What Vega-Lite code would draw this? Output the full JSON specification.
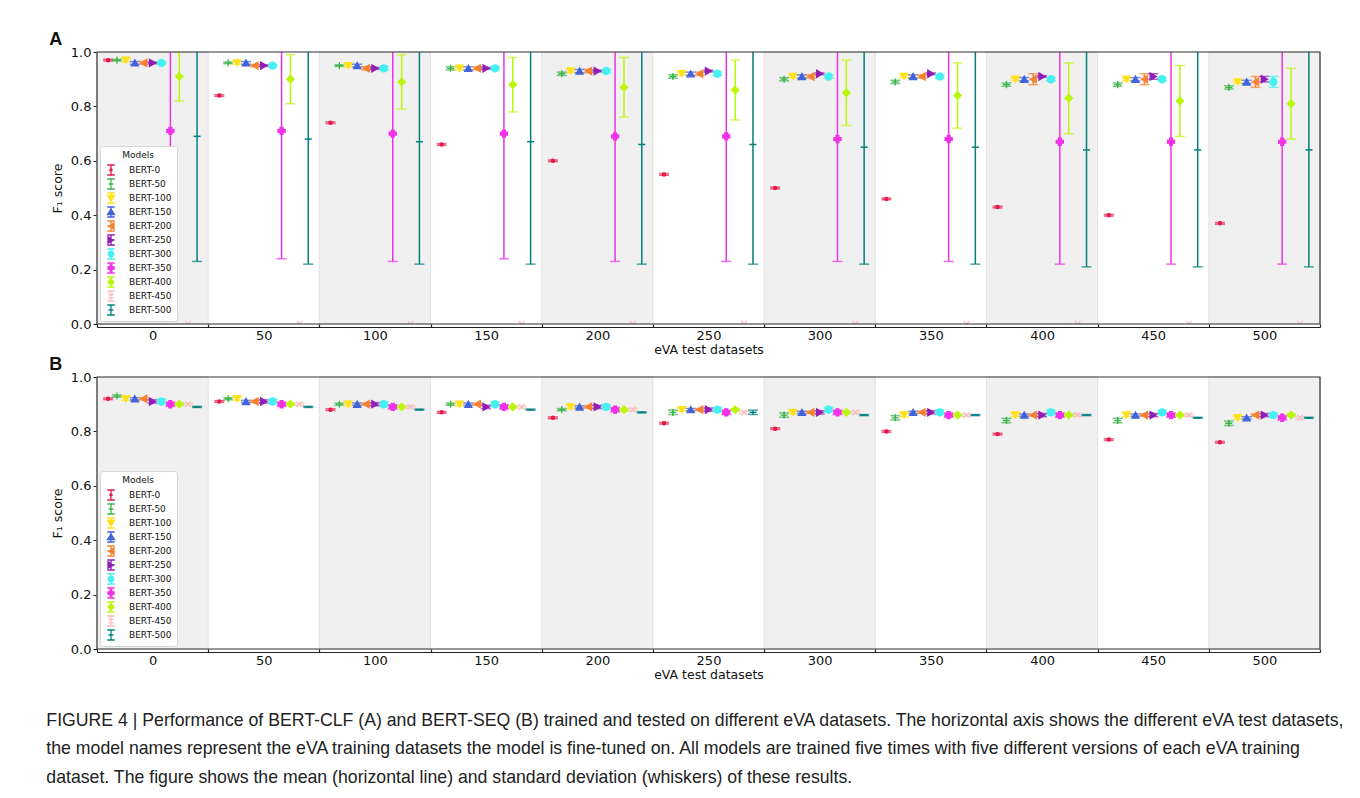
{
"$schema": "https://vega.github.io/schema/vega-lite/v6.json",
"background": "white",
"padding": {"left": 46, "top": 31, "right": 0, "bottom": 0},
"spacing": 0,
"config": {
 "font": "DejaVu Sans",
 "view": {"stroke": null},
 "axis": {"labelFont": "DejaVu Sans", "titleFont": "DejaVu Sans", "labelColor": "#111", "titleColor": "#111", "titleFontWeight": "normal", "grid": false},
 "legend": {"orient": "bottom-left", "offset": 3, "zindex": 1, "strokeColor": "#d4d4d4", "fillColor": "white", "cornerRadius": 3, "padding": 5, "titleFont": "DejaVu Sans", "titleFontSize": 9, "titleFontWeight": "normal", "titleColor": "#111", "titleAnchor": "middle", "titlePadding": 4, "labelFont": "DejaVu Sans", "labelFontSize": 9, "labelColor": "#111", "symbolSize": 100, "symbolStrokeWidth": 1.3, "symbolOpacity": 1, "rowPadding": 2, "clipHeight": 12, "labelOffset": 12}
},
"title": {"text": ["FIGURE 4 | Performance of BERT-CLF (A) and BERT-SEQ (B) trained and tested on different eVA datasets. The horizontal axis shows the different eVA test datasets,", "the model names represent the eVA training datasets the model is fine-tuned on. All models are trained five times with five different versions of each eVA training", "dataset. The figure shows the mean (horizontal line) and standard deviation (whiskers) of these results."], "orient": "bottom", "anchor": "start", "frame": "bounds", "dx": -3, "offset": 31, "font": "Liberation Sans", "fontSize": 17.7, "fontWeight": "normal", "lineHeight": 28.7, "color": "#222"},
"datasets": {
 "bands": [{"t":0},{"t":100},{"t":200},{"t":300},{"t":400},{"t":500}],
 "frame": [{}],
 "A": [
{"t":0,"m":"BERT-0","v":0.97,"lo":0.967,"hi":0.973},{"t":0,"m":"BERT-50","v":0.97,"lo":0.967,"hi":0.973},{"t":0,"m":"BERT-100","v":0.97,"lo":0.964,"hi":0.976},{"t":0,"m":"BERT-150","v":0.96,"lo":0.955,"hi":0.965},{"t":0,"m":"BERT-200","v":0.96,"lo":0.955,"hi":0.965},{"t":0,"m":"BERT-250","v":0.96,"lo":0.957,"hi":0.963},{"t":0,"m":"BERT-300","v":0.96,"lo":0.956,"hi":0.964},{"t":0,"m":"BERT-350","v":0.71,"lo":0.24,"hi":1.18},{"t":0,"m":"BERT-400","v":0.91,"lo":0.82,"hi":1.0},{"t":0,"m":"BERT-450","v":0.0,"lo":0.0,"hi":0.0},{"t":0,"m":"BERT-500","v":0.69,"lo":0.23,"hi":1.15},
{"t":50,"m":"BERT-0","v":0.84,"lo":0.837,"hi":0.843},{"t":50,"m":"BERT-50","v":0.96,"lo":0.957,"hi":0.963},{"t":50,"m":"BERT-100","v":0.96,"lo":0.955,"hi":0.965},{"t":50,"m":"BERT-150","v":0.96,"lo":0.955,"hi":0.965},{"t":50,"m":"BERT-200","v":0.95,"lo":0.946,"hi":0.954},{"t":50,"m":"BERT-250","v":0.95,"lo":0.947,"hi":0.953},{"t":50,"m":"BERT-300","v":0.95,"lo":0.946,"hi":0.954},{"t":50,"m":"BERT-350","v":0.71,"lo":0.24,"hi":1.18},{"t":50,"m":"BERT-400","v":0.90,"lo":0.81,"hi":0.99},{"t":50,"m":"BERT-450","v":0.0,"lo":0.0,"hi":0.0},{"t":50,"m":"BERT-500","v":0.68,"lo":0.22,"hi":1.14},
{"t":100,"m":"BERT-0","v":0.74,"lo":0.737,"hi":0.743},{"t":100,"m":"BERT-50","v":0.95,"lo":0.947,"hi":0.953},{"t":100,"m":"BERT-100","v":0.95,"lo":0.945,"hi":0.955},{"t":100,"m":"BERT-150","v":0.95,"lo":0.945,"hi":0.955},{"t":100,"m":"BERT-200","v":0.94,"lo":0.934,"hi":0.946},{"t":100,"m":"BERT-250","v":0.94,"lo":0.937,"hi":0.943},{"t":100,"m":"BERT-300","v":0.94,"lo":0.934,"hi":0.946},{"t":100,"m":"BERT-350","v":0.70,"lo":0.23,"hi":1.17},{"t":100,"m":"BERT-400","v":0.89,"lo":0.79,"hi":0.99},{"t":100,"m":"BERT-450","v":0.0,"lo":0.0,"hi":0.0},{"t":100,"m":"BERT-500","v":0.67,"lo":0.22,"hi":1.12},
{"t":150,"m":"BERT-0","v":0.66,"lo":0.657,"hi":0.663},{"t":150,"m":"BERT-50","v":0.94,"lo":0.934,"hi":0.946},{"t":150,"m":"BERT-100","v":0.94,"lo":0.935,"hi":0.945},{"t":150,"m":"BERT-150","v":0.94,"lo":0.934,"hi":0.946},{"t":150,"m":"BERT-200","v":0.94,"lo":0.934,"hi":0.946},{"t":150,"m":"BERT-250","v":0.94,"lo":0.937,"hi":0.943},{"t":150,"m":"BERT-300","v":0.94,"lo":0.934,"hi":0.946},{"t":150,"m":"BERT-350","v":0.70,"lo":0.24,"hi":1.16},{"t":150,"m":"BERT-400","v":0.88,"lo":0.78,"hi":0.98},{"t":150,"m":"BERT-450","v":0.0,"lo":0.0,"hi":0.0},{"t":150,"m":"BERT-500","v":0.67,"lo":0.22,"hi":1.12},
{"t":200,"m":"BERT-0","v":0.60,"lo":0.597,"hi":0.603},{"t":200,"m":"BERT-50","v":0.92,"lo":0.914,"hi":0.926},{"t":200,"m":"BERT-100","v":0.93,"lo":0.925,"hi":0.935},{"t":200,"m":"BERT-150","v":0.93,"lo":0.924,"hi":0.936},{"t":200,"m":"BERT-200","v":0.93,"lo":0.924,"hi":0.936},{"t":200,"m":"BERT-250","v":0.93,"lo":0.927,"hi":0.933},{"t":200,"m":"BERT-300","v":0.93,"lo":0.924,"hi":0.936},{"t":200,"m":"BERT-350","v":0.69,"lo":0.23,"hi":1.15},{"t":200,"m":"BERT-400","v":0.87,"lo":0.76,"hi":0.98},{"t":200,"m":"BERT-450","v":0.0,"lo":0.0,"hi":0.0},{"t":200,"m":"BERT-500","v":0.66,"lo":0.22,"hi":1.10},
{"t":250,"m":"BERT-0","v":0.55,"lo":0.547,"hi":0.553},{"t":250,"m":"BERT-50","v":0.91,"lo":0.904,"hi":0.916},{"t":250,"m":"BERT-100","v":0.92,"lo":0.915,"hi":0.925},{"t":250,"m":"BERT-150","v":0.92,"lo":0.914,"hi":0.926},{"t":250,"m":"BERT-200","v":0.92,"lo":0.914,"hi":0.926},{"t":250,"m":"BERT-250","v":0.93,"lo":0.927,"hi":0.933},{"t":250,"m":"BERT-300","v":0.92,"lo":0.914,"hi":0.926},{"t":250,"m":"BERT-350","v":0.69,"lo":0.23,"hi":1.15},{"t":250,"m":"BERT-400","v":0.86,"lo":0.75,"hi":0.97},{"t":250,"m":"BERT-450","v":0.0,"lo":0.0,"hi":0.0},{"t":250,"m":"BERT-500","v":0.66,"lo":0.22,"hi":1.10},
{"t":300,"m":"BERT-0","v":0.50,"lo":0.497,"hi":0.503},{"t":300,"m":"BERT-50","v":0.90,"lo":0.894,"hi":0.906},{"t":300,"m":"BERT-100","v":0.91,"lo":0.905,"hi":0.915},{"t":300,"m":"BERT-150","v":0.91,"lo":0.904,"hi":0.916},{"t":300,"m":"BERT-200","v":0.91,"lo":0.904,"hi":0.916},{"t":300,"m":"BERT-250","v":0.92,"lo":0.917,"hi":0.923},{"t":300,"m":"BERT-300","v":0.91,"lo":0.904,"hi":0.916},{"t":300,"m":"BERT-350","v":0.68,"lo":0.23,"hi":1.13},{"t":300,"m":"BERT-400","v":0.85,"lo":0.73,"hi":0.97},{"t":300,"m":"BERT-450","v":0.0,"lo":0.0,"hi":0.0},{"t":300,"m":"BERT-500","v":0.65,"lo":0.22,"hi":1.08},
{"t":350,"m":"BERT-0","v":0.46,"lo":0.457,"hi":0.463},{"t":350,"m":"BERT-50","v":0.89,"lo":0.884,"hi":0.896},{"t":350,"m":"BERT-100","v":0.91,"lo":0.905,"hi":0.915},{"t":350,"m":"BERT-150","v":0.91,"lo":0.904,"hi":0.916},{"t":350,"m":"BERT-200","v":0.91,"lo":0.904,"hi":0.916},{"t":350,"m":"BERT-250","v":0.92,"lo":0.917,"hi":0.923},{"t":350,"m":"BERT-300","v":0.91,"lo":0.904,"hi":0.916},{"t":350,"m":"BERT-350","v":0.68,"lo":0.23,"hi":1.13},{"t":350,"m":"BERT-400","v":0.84,"lo":0.72,"hi":0.96},{"t":350,"m":"BERT-450","v":0.0,"lo":0.0,"hi":0.0},{"t":350,"m":"BERT-500","v":0.65,"lo":0.22,"hi":1.08},
{"t":400,"m":"BERT-0","v":0.43,"lo":0.427,"hi":0.433},{"t":400,"m":"BERT-50","v":0.88,"lo":0.874,"hi":0.886},{"t":400,"m":"BERT-100","v":0.90,"lo":0.895,"hi":0.905},{"t":400,"m":"BERT-150","v":0.90,"lo":0.894,"hi":0.906},{"t":400,"m":"BERT-200","v":0.90,"lo":0.88,"hi":0.92},{"t":400,"m":"BERT-250","v":0.91,"lo":0.907,"hi":0.913},{"t":400,"m":"BERT-300","v":0.90,"lo":0.894,"hi":0.906},{"t":400,"m":"BERT-350","v":0.67,"lo":0.22,"hi":1.12},{"t":400,"m":"BERT-400","v":0.83,"lo":0.70,"hi":0.96},{"t":400,"m":"BERT-450","v":0.0,"lo":0.0,"hi":0.0},{"t":400,"m":"BERT-500","v":0.64,"lo":0.21,"hi":1.07},
{"t":450,"m":"BERT-0","v":0.40,"lo":0.397,"hi":0.403},{"t":450,"m":"BERT-50","v":0.88,"lo":0.874,"hi":0.886},{"t":450,"m":"BERT-100","v":0.90,"lo":0.895,"hi":0.905},{"t":450,"m":"BERT-150","v":0.90,"lo":0.894,"hi":0.906},{"t":450,"m":"BERT-200","v":0.90,"lo":0.88,"hi":0.92},{"t":450,"m":"BERT-250","v":0.91,"lo":0.90,"hi":0.92},{"t":450,"m":"BERT-300","v":0.90,"lo":0.894,"hi":0.906},{"t":450,"m":"BERT-350","v":0.67,"lo":0.22,"hi":1.12},{"t":450,"m":"BERT-400","v":0.82,"lo":0.69,"hi":0.95},{"t":450,"m":"BERT-450","v":0.0,"lo":0.0,"hi":0.0},{"t":450,"m":"BERT-500","v":0.64,"lo":0.21,"hi":1.07},
{"t":500,"m":"BERT-0","v":0.37,"lo":0.367,"hi":0.373},{"t":500,"m":"BERT-50","v":0.87,"lo":0.864,"hi":0.876},{"t":500,"m":"BERT-100","v":0.89,"lo":0.885,"hi":0.895},{"t":500,"m":"BERT-150","v":0.89,"lo":0.884,"hi":0.896},{"t":500,"m":"BERT-200","v":0.89,"lo":0.87,"hi":0.91},{"t":500,"m":"BERT-250","v":0.90,"lo":0.89,"hi":0.91},{"t":500,"m":"BERT-300","v":0.89,"lo":0.87,"hi":0.91},{"t":500,"m":"BERT-350","v":0.67,"lo":0.22,"hi":1.12},{"t":500,"m":"BERT-400","v":0.81,"lo":0.68,"hi":0.94},{"t":500,"m":"BERT-450","v":0.0,"lo":0.0,"hi":0.0},{"t":500,"m":"BERT-500","v":0.64,"lo":0.21,"hi":1.07}
 ],
 "B": [
{"t":0,"m":"BERT-0","v":0.92,"lo":0.917,"hi":0.923},{"t":0,"m":"BERT-50","v":0.93,"lo":0.926,"hi":0.934},{"t":0,"m":"BERT-100","v":0.92,"lo":0.914,"hi":0.926},{"t":0,"m":"BERT-150","v":0.92,"lo":0.916,"hi":0.924},{"t":0,"m":"BERT-200","v":0.92,"lo":0.916,"hi":0.924},{"t":0,"m":"BERT-250","v":0.91,"lo":0.904,"hi":0.916},{"t":0,"m":"BERT-300","v":0.91,"lo":0.902,"hi":0.918},{"t":0,"m":"BERT-350","v":0.90,"lo":0.892,"hi":0.908},{"t":0,"m":"BERT-400","v":0.90,"lo":0.896,"hi":0.904},{"t":0,"m":"BERT-450","v":0.90,"lo":0.896,"hi":0.904},{"t":0,"m":"BERT-500","v":0.89,"lo":0.888,"hi":0.892},
{"t":50,"m":"BERT-0","v":0.91,"lo":0.907,"hi":0.913},{"t":50,"m":"BERT-50","v":0.92,"lo":0.916,"hi":0.924},{"t":50,"m":"BERT-100","v":0.92,"lo":0.914,"hi":0.926},{"t":50,"m":"BERT-150","v":0.91,"lo":0.906,"hi":0.914},{"t":50,"m":"BERT-200","v":0.91,"lo":0.906,"hi":0.914},{"t":50,"m":"BERT-250","v":0.91,"lo":0.904,"hi":0.916},{"t":50,"m":"BERT-300","v":0.91,"lo":0.902,"hi":0.918},{"t":50,"m":"BERT-350","v":0.90,"lo":0.892,"hi":0.908},{"t":50,"m":"BERT-400","v":0.90,"lo":0.896,"hi":0.904},{"t":50,"m":"BERT-450","v":0.90,"lo":0.896,"hi":0.904},{"t":50,"m":"BERT-500","v":0.89,"lo":0.888,"hi":0.892},
{"t":100,"m":"BERT-0","v":0.88,"lo":0.877,"hi":0.883},{"t":100,"m":"BERT-50","v":0.90,"lo":0.896,"hi":0.904},{"t":100,"m":"BERT-100","v":0.90,"lo":0.894,"hi":0.906},{"t":100,"m":"BERT-150","v":0.90,"lo":0.896,"hi":0.904},{"t":100,"m":"BERT-200","v":0.90,"lo":0.896,"hi":0.904},{"t":100,"m":"BERT-250","v":0.90,"lo":0.894,"hi":0.906},{"t":100,"m":"BERT-300","v":0.90,"lo":0.892,"hi":0.908},{"t":100,"m":"BERT-350","v":0.89,"lo":0.882,"hi":0.898},{"t":100,"m":"BERT-400","v":0.89,"lo":0.886,"hi":0.894},{"t":100,"m":"BERT-450","v":0.89,"lo":0.886,"hi":0.894},{"t":100,"m":"BERT-500","v":0.88,"lo":0.878,"hi":0.882},
{"t":150,"m":"BERT-0","v":0.87,"lo":0.867,"hi":0.873},{"t":150,"m":"BERT-50","v":0.90,"lo":0.896,"hi":0.904},{"t":150,"m":"BERT-100","v":0.90,"lo":0.894,"hi":0.906},{"t":150,"m":"BERT-150","v":0.90,"lo":0.896,"hi":0.904},{"t":150,"m":"BERT-200","v":0.90,"lo":0.896,"hi":0.904},{"t":150,"m":"BERT-250","v":0.89,"lo":0.884,"hi":0.896},{"t":150,"m":"BERT-300","v":0.90,"lo":0.892,"hi":0.908},{"t":150,"m":"BERT-350","v":0.89,"lo":0.882,"hi":0.898},{"t":150,"m":"BERT-400","v":0.89,"lo":0.886,"hi":0.894},{"t":150,"m":"BERT-450","v":0.89,"lo":0.886,"hi":0.894},{"t":150,"m":"BERT-500","v":0.88,"lo":0.878,"hi":0.882},
{"t":200,"m":"BERT-0","v":0.85,"lo":0.847,"hi":0.853},{"t":200,"m":"BERT-50","v":0.88,"lo":0.876,"hi":0.884},{"t":200,"m":"BERT-100","v":0.89,"lo":0.884,"hi":0.896},{"t":200,"m":"BERT-150","v":0.89,"lo":0.886,"hi":0.894},{"t":200,"m":"BERT-200","v":0.89,"lo":0.886,"hi":0.894},{"t":200,"m":"BERT-250","v":0.89,"lo":0.884,"hi":0.896},{"t":200,"m":"BERT-300","v":0.89,"lo":0.882,"hi":0.898},{"t":200,"m":"BERT-350","v":0.88,"lo":0.872,"hi":0.888},{"t":200,"m":"BERT-400","v":0.88,"lo":0.876,"hi":0.884},{"t":200,"m":"BERT-450","v":0.88,"lo":0.876,"hi":0.884},{"t":200,"m":"BERT-500","v":0.87,"lo":0.868,"hi":0.872},
{"t":250,"m":"BERT-0","v":0.83,"lo":0.827,"hi":0.833},{"t":250,"m":"BERT-50","v":0.87,"lo":0.862,"hi":0.878},{"t":250,"m":"BERT-100","v":0.88,"lo":0.874,"hi":0.886},{"t":250,"m":"BERT-150","v":0.88,"lo":0.876,"hi":0.884},{"t":250,"m":"BERT-200","v":0.88,"lo":0.876,"hi":0.884},{"t":250,"m":"BERT-250","v":0.88,"lo":0.874,"hi":0.886},{"t":250,"m":"BERT-300","v":0.88,"lo":0.872,"hi":0.888},{"t":250,"m":"BERT-350","v":0.87,"lo":0.862,"hi":0.878},{"t":250,"m":"BERT-400","v":0.88,"lo":0.876,"hi":0.884},{"t":250,"m":"BERT-450","v":0.87,"lo":0.866,"hi":0.874},{"t":250,"m":"BERT-500","v":0.87,"lo":0.862,"hi":0.878},
{"t":300,"m":"BERT-0","v":0.81,"lo":0.807,"hi":0.813},{"t":300,"m":"BERT-50","v":0.86,"lo":0.852,"hi":0.868},{"t":300,"m":"BERT-100","v":0.87,"lo":0.864,"hi":0.876},{"t":300,"m":"BERT-150","v":0.87,"lo":0.866,"hi":0.874},{"t":300,"m":"BERT-200","v":0.87,"lo":0.866,"hi":0.874},{"t":300,"m":"BERT-250","v":0.87,"lo":0.864,"hi":0.876},{"t":300,"m":"BERT-300","v":0.88,"lo":0.872,"hi":0.888},{"t":300,"m":"BERT-350","v":0.87,"lo":0.862,"hi":0.878},{"t":300,"m":"BERT-400","v":0.87,"lo":0.866,"hi":0.874},{"t":300,"m":"BERT-450","v":0.87,"lo":0.866,"hi":0.874},{"t":300,"m":"BERT-500","v":0.86,"lo":0.858,"hi":0.862},
{"t":350,"m":"BERT-0","v":0.80,"lo":0.797,"hi":0.803},{"t":350,"m":"BERT-50","v":0.85,"lo":0.842,"hi":0.858},{"t":350,"m":"BERT-100","v":0.86,"lo":0.854,"hi":0.866},{"t":350,"m":"BERT-150","v":0.87,"lo":0.866,"hi":0.874},{"t":350,"m":"BERT-200","v":0.87,"lo":0.866,"hi":0.874},{"t":350,"m":"BERT-250","v":0.87,"lo":0.864,"hi":0.876},{"t":350,"m":"BERT-300","v":0.87,"lo":0.862,"hi":0.878},{"t":350,"m":"BERT-350","v":0.86,"lo":0.852,"hi":0.868},{"t":350,"m":"BERT-400","v":0.86,"lo":0.856,"hi":0.864},{"t":350,"m":"BERT-450","v":0.86,"lo":0.856,"hi":0.864},{"t":350,"m":"BERT-500","v":0.86,"lo":0.858,"hi":0.862},
{"t":400,"m":"BERT-0","v":0.79,"lo":0.787,"hi":0.793},{"t":400,"m":"BERT-50","v":0.84,"lo":0.832,"hi":0.848},{"t":400,"m":"BERT-100","v":0.86,"lo":0.854,"hi":0.866},{"t":400,"m":"BERT-150","v":0.86,"lo":0.856,"hi":0.864},{"t":400,"m":"BERT-200","v":0.86,"lo":0.856,"hi":0.864},{"t":400,"m":"BERT-250","v":0.86,"lo":0.854,"hi":0.866},{"t":400,"m":"BERT-300","v":0.87,"lo":0.862,"hi":0.878},{"t":400,"m":"BERT-350","v":0.86,"lo":0.852,"hi":0.868},{"t":400,"m":"BERT-400","v":0.86,"lo":0.856,"hi":0.864},{"t":400,"m":"BERT-450","v":0.86,"lo":0.856,"hi":0.864},{"t":400,"m":"BERT-500","v":0.86,"lo":0.858,"hi":0.862},
{"t":450,"m":"BERT-0","v":0.77,"lo":0.767,"hi":0.773},{"t":450,"m":"BERT-50","v":0.84,"lo":0.832,"hi":0.848},{"t":450,"m":"BERT-100","v":0.86,"lo":0.854,"hi":0.866},{"t":450,"m":"BERT-150","v":0.86,"lo":0.856,"hi":0.864},{"t":450,"m":"BERT-200","v":0.86,"lo":0.856,"hi":0.864},{"t":450,"m":"BERT-250","v":0.86,"lo":0.854,"hi":0.866},{"t":450,"m":"BERT-300","v":0.87,"lo":0.862,"hi":0.878},{"t":450,"m":"BERT-350","v":0.86,"lo":0.852,"hi":0.868},{"t":450,"m":"BERT-400","v":0.86,"lo":0.856,"hi":0.864},{"t":450,"m":"BERT-450","v":0.86,"lo":0.856,"hi":0.864},{"t":450,"m":"BERT-500","v":0.85,"lo":0.848,"hi":0.852},
{"t":500,"m":"BERT-0","v":0.76,"lo":0.757,"hi":0.763},{"t":500,"m":"BERT-50","v":0.83,"lo":0.822,"hi":0.838},{"t":500,"m":"BERT-100","v":0.85,"lo":0.844,"hi":0.856},{"t":500,"m":"BERT-150","v":0.85,"lo":0.846,"hi":0.854},{"t":500,"m":"BERT-200","v":0.86,"lo":0.856,"hi":0.864},{"t":500,"m":"BERT-250","v":0.86,"lo":0.854,"hi":0.866},{"t":500,"m":"BERT-300","v":0.86,"lo":0.852,"hi":0.868},{"t":500,"m":"BERT-350","v":0.85,"lo":0.842,"hi":0.858},{"t":500,"m":"BERT-400","v":0.86,"lo":0.856,"hi":0.864},{"t":500,"m":"BERT-450","v":0.85,"lo":0.846,"hi":0.854},{"t":500,"m":"BERT-500","v":0.85,"lo":0.848,"hi":0.852}
 ]
},
"resolve": {"scale": {"color": "independent", "shape": "independent", "stroke": "independent"}},
"vconcat": [
 {
  "title": {"text": "A", "anchor": "start", "frame": "bounds", "dx": -2, "font": "Liberation Sans", "fontSize": 18, "fontWeight": "bold", "color": "#111", "offset": -3},
  "width": 1223, "height": 272,
  "layer": [
   {"data": {"name": "bands"}, "mark": {"type": "rect", "fill": "#f0f0f0", "stroke": "#e2e2e2", "strokeWidth": 1},
    "encoding": {"x": {"field": "t", "type": "nominal", "scale": {"domain": [0,50,100,150,200,250,300,350,400,450,500], "paddingInner": 0, "paddingOuter": 0}, "axis": {"title": "eVA test datasets", "labelAngle": 0, "labelFontSize": 13, "titleFontSize": 12.5, "offset": 3, "domainColor": "#222", "domainWidth": 1.2, "tickBand": "extent", "tickSize": -3, "tickColor": "#222", "tickWidth": 1.2, "labelPadding": 5, "titlePadding": 1}}}},
   {"data": {"name": "A"},
    "encoding": {
     "x": {"field": "t", "type": "nominal", "title": "eVA test datasets"},
     "xOffset": {"field": "m", "type": "nominal", "scale": {"domain": ["BERT-0","BERT-50","BERT-100","BERT-150","BERT-200","BERT-250","BERT-300","BERT-350","BERT-400","BERT-450","BERT-500"], "paddingOuter": 0.75, "paddingInner": 0}}
    },
    "layer": [
     {"transform": [{"filter": "datum.hi > datum.lo"}], "mark": {"type": "rule", "strokeWidth": 1.5, "clip": true},
      "encoding": {
       "y": {"field": "lo", "type": "quantitative", "scale": {"domain": [0, 1], "nice": false}, "title": "F₁ score", "axis": {"values": [0,0.2,0.4,0.6,0.8,1], "format": ".1f", "labelFontSize": 13, "tickSize": 4, "tickColor": "#222", "domain": false, "titleFontSize": 12.5, "titlePadding": 6, "labelPadding": 2}},
       "y2": {"field": "hi"},
       "color": {"field": "m", "type": "nominal", "title": "Models", "scale": {"domain": ["BERT-0","BERT-50","BERT-100","BERT-150","BERT-200","BERT-250","BERT-300","BERT-350","BERT-400","BERT-450","BERT-500"], "range": ["#e6194b","#3cb44b","#ffe119","#4363d8","#f58231","#911eb4","#46f0f0","#f032e6","#bcf60c","#fabebe","#008080"]}}
      }},
     {"transform": [{"filter": "datum.hi > datum.lo"}], "mark": {"type": "tick", "size": 10, "thickness": 1.5, "clip": true},
      "encoding": {"y": {"field": "lo", "type": "quantitative", "title": "F₁ score"}, "color": {"field": "m", "type": "nominal", "title": "Models"}}},
     {"transform": [{"filter": "datum.hi > datum.lo"}], "mark": {"type": "tick", "size": 10, "thickness": 1.5, "clip": true},
      "encoding": {"y": {"field": "hi", "type": "quantitative", "title": "F₁ score"}, "color": {"field": "m", "type": "nominal", "title": "Models"}}},
     {"transform": [{"filter": "datum.m == 'BERT-0'"}], "mark": {"type": "point", "shape": "M-0.45,0A0.45,0.45 0 1,0 0.45,0A0.45,0.45 0 1,0 -0.45,0Z", "filled": true, "color": "#e6194b", "stroke": "#e6194b", "strokeWidth": 1.3, "size": 50, "opacity": 1, "clip": true}, "encoding": {"y": {"field": "v", "type": "quantitative", "title": "F₁ score"}}},
     {"transform": [{"filter": "datum.m == 'BERT-50'"}], "mark": {"type": "point", "shape": "M-1,0H1M0,-1V1", "filled": true, "color": "#3cb44b", "stroke": "#3cb44b", "strokeWidth": 1.3, "size": 50, "opacity": 1, "clip": true}, "encoding": {"y": {"field": "v", "type": "quantitative", "title": "F₁ score"}}},
     {"transform": [{"filter": "datum.m == 'BERT-100'"}], "mark": {"type": "point", "shape": "triangle-down", "filled": true, "color": "#ffe119", "stroke": "#ffe119", "strokeWidth": 1.3, "size": 50, "opacity": 1, "clip": true}, "encoding": {"y": {"field": "v", "type": "quantitative", "title": "F₁ score"}}},
     {"transform": [{"filter": "datum.m == 'BERT-150'"}], "mark": {"type": "point", "shape": "triangle-up", "filled": true, "color": "#4363d8", "stroke": "#4363d8", "strokeWidth": 1.3, "size": 50, "opacity": 1, "clip": true}, "encoding": {"y": {"field": "v", "type": "quantitative", "title": "F₁ score"}}},
     {"transform": [{"filter": "datum.m == 'BERT-200'"}], "mark": {"type": "point", "shape": "triangle-left", "filled": true, "color": "#f58231", "stroke": "#f58231", "strokeWidth": 1.3, "size": 50, "opacity": 1, "clip": true}, "encoding": {"y": {"field": "v", "type": "quantitative", "title": "F₁ score"}}},
     {"transform": [{"filter": "datum.m == 'BERT-250'"}], "mark": {"type": "point", "shape": "triangle-right", "filled": true, "color": "#911eb4", "stroke": "#911eb4", "strokeWidth": 1.3, "size": 50, "opacity": 1, "clip": true}, "encoding": {"y": {"field": "v", "type": "quantitative", "title": "F₁ score"}}},
     {"transform": [{"filter": "datum.m == 'BERT-300'"}], "mark": {"type": "point", "shape": "circle", "filled": true, "color": "#46f0f0", "stroke": "#46f0f0", "strokeWidth": 1.3, "size": 50, "opacity": 1, "clip": true}, "encoding": {"y": {"field": "v", "type": "quantitative", "title": "F₁ score"}}},
     {"transform": [{"filter": "datum.m == 'BERT-350'"}], "mark": {"type": "point", "shape": "cross", "filled": true, "color": "#f032e6", "stroke": "#f032e6", "strokeWidth": 1.3, "size": 50, "opacity": 1, "clip": true}, "encoding": {"y": {"field": "v", "type": "quantitative", "title": "F₁ score"}}},
     {"transform": [{"filter": "datum.m == 'BERT-400'"}], "mark": {"type": "point", "shape": "diamond", "filled": true, "color": "#bcf60c", "stroke": "#bcf60c", "strokeWidth": 1.3, "size": 55, "opacity": 1, "clip": true}, "encoding": {"y": {"field": "v", "type": "quantitative", "title": "F₁ score"}}},
     {"transform": [{"filter": "datum.m == 'BERT-450'"}], "mark": {"type": "point", "shape": "M-0.8,-0.8L0.8,0.8M-0.8,0.8L0.8,-0.8", "filled": true, "color": "#fabebe", "stroke": "#fabebe", "strokeWidth": 1.3, "size": 50, "opacity": 1, "clip": true}, "encoding": {"y": {"field": "v", "type": "quantitative", "title": "F₁ score"}}},
     {"transform": [{"filter": "datum.m == 'BERT-500'"}], "mark": {"type": "point", "shape": "M-1,0H1", "filled": true, "color": "#008080", "stroke": "#008080", "strokeWidth": 1.5, "size": 50, "opacity": 1, "clip": true}, "encoding": {"y": {"field": "v", "type": "quantitative", "title": "F₁ score"}}},
     {"transform": [{"filter": "false"}], "mark": {"type": "point", "filled": true, "strokeWidth": 1.3, "opacity": 1},
      "encoding": {
       "y": {"field": "v", "type": "quantitative", "title": "F₁ score"},
       "color": {"field": "m", "type": "nominal", "title": "Models", "legend": {"title": "Models", "symbolSize": 100, "rowPadding": 2, "clipHeight": 12}},
       "shape": {"field": "m", "type": "nominal", "title": "Models", "scale": {"domain": ["BERT-0","BERT-50","BERT-100","BERT-150","BERT-200","BERT-250","BERT-300","BERT-350","BERT-400","BERT-450","BERT-500"], "range": ["M-0.75,-1H0.75M0,-1V1M-0.75,1H0.75M-0.22,0A0.22,0.22 0 1,0 0.22,0A0.22,0.22 0 1,0 -0.22,0Z","M-0.75,-1H0.75M0,-1V1M-0.75,1H0.75M-0.5,0H0.5","M-0.75,-1H0.75M0,-1V1M-0.75,1H0.75M-0.7,-0.5H0.7L0,0.6Z","M-0.75,-1H0.75M0,-1V1M-0.75,1H0.75M-0.7,0.5H0.7L0,-0.6Z","M-0.75,-1H0.75M0,-1V1M-0.75,1H0.75M0.6,-0.65V0.65L-0.6,0Z","M-0.75,-1H0.75M0,-1V1M-0.75,1H0.75M-0.6,-0.65V0.65L0.6,0Z","M-0.75,-1H0.75M0,-1V1M-0.75,1H0.75M-0.55,0A0.55,0.55 0 1,0 0.55,0A0.55,0.55 0 1,0 -0.55,0Z","M-0.75,-1H0.75M0,-1V1M-0.75,1H0.75M-0.2,-0.6H0.2V-0.2H0.6V0.2H0.2V0.6H-0.2V0.2H-0.6V-0.2H-0.2Z","M-0.75,-1H0.75M0,-1V1M-0.75,1H0.75M0,-0.7L0.6,0L0,0.7L-0.6,0Z","M-0.75,-1H0.75M0,-1V1M-0.75,1H0.75M-0.5,-0.5L0.5,0.5M-0.5,0.5L0.5,-0.5","M-0.75,-1H0.75M0,-1V1M-0.75,1H0.75M-0.5,0H0.5"]}},
       "stroke": {"field": "m", "type": "nominal", "title": "Models", "scale": {"domain": ["BERT-0","BERT-50","BERT-100","BERT-150","BERT-200","BERT-250","BERT-300","BERT-350","BERT-400","BERT-450","BERT-500"], "range": ["#e6194b","#3cb44b","#ffe119","#4363d8","#f58231","#911eb4","#46f0f0","#f032e6","#bcf60c","#fabebe","#008080"]}}
      }}
    ]
   },
   {"data": {"name": "frame"}, "mark": {"type": "rect", "filled": false, "color": "#333", "stroke": "#333", "strokeWidth": 1.2}, "encoding": {}}
  ]
 },
 {
  "title": {"text": "B", "anchor": "start", "frame": "bounds", "dx": -2, "font": "Liberation Sans", "fontSize": 18, "fontWeight": "bold", "color": "#111", "offset": -3},
  "width": 1223, "height": 272,
  "layer": [
   {"data": {"name": "bands"}, "mark": {"type": "rect", "fill": "#f0f0f0", "stroke": "#e2e2e2", "strokeWidth": 1},
    "encoding": {"x": {"field": "t", "type": "nominal", "scale": {"domain": [0,50,100,150,200,250,300,350,400,450,500], "paddingInner": 0, "paddingOuter": 0}, "axis": {"title": "eVA test datasets", "labelAngle": 0, "labelFontSize": 13, "titleFontSize": 12.5, "offset": 3, "domainColor": "#222", "domainWidth": 1.2, "tickBand": "extent", "tickSize": -3, "tickColor": "#222", "tickWidth": 1.2, "labelPadding": 5, "titlePadding": 1}}}},
   {"data": {"name": "B"},
    "encoding": {
     "x": {"field": "t", "type": "nominal", "title": "eVA test datasets"},
     "xOffset": {"field": "m", "type": "nominal", "scale": {"domain": ["BERT-0","BERT-50","BERT-100","BERT-150","BERT-200","BERT-250","BERT-300","BERT-350","BERT-400","BERT-450","BERT-500"], "paddingOuter": 0.75, "paddingInner": 0}}
    },
    "layer": [
     {"transform": [{"filter": "datum.hi > datum.lo"}], "mark": {"type": "rule", "strokeWidth": 1.5, "clip": true},
      "encoding": {
       "y": {"field": "lo", "type": "quantitative", "scale": {"domain": [0, 1], "nice": false}, "title": "F₁ score", "axis": {"values": [0,0.2,0.4,0.6,0.8,1], "format": ".1f", "labelFontSize": 13, "tickSize": 4, "tickColor": "#222", "domain": false, "titleFontSize": 12.5, "titlePadding": 6, "labelPadding": 2}},
       "y2": {"field": "hi"},
       "color": {"field": "m", "type": "nominal", "title": "Models", "scale": {"domain": ["BERT-0","BERT-50","BERT-100","BERT-150","BERT-200","BERT-250","BERT-300","BERT-350","BERT-400","BERT-450","BERT-500"], "range": ["#e6194b","#3cb44b","#ffe119","#4363d8","#f58231","#911eb4","#46f0f0","#f032e6","#bcf60c","#fabebe","#008080"]}}
      }},
     {"transform": [{"filter": "datum.hi > datum.lo"}], "mark": {"type": "tick", "size": 10, "thickness": 1.5, "clip": true},
      "encoding": {"y": {"field": "lo", "type": "quantitative", "title": "F₁ score"}, "color": {"field": "m", "type": "nominal", "title": "Models"}}},
     {"transform": [{"filter": "datum.hi > datum.lo"}], "mark": {"type": "tick", "size": 10, "thickness": 1.5, "clip": true},
      "encoding": {"y": {"field": "hi", "type": "quantitative", "title": "F₁ score"}, "color": {"field": "m", "type": "nominal", "title": "Models"}}},
     {"transform": [{"filter": "datum.m == 'BERT-0'"}], "mark": {"type": "point", "shape": "M-0.45,0A0.45,0.45 0 1,0 0.45,0A0.45,0.45 0 1,0 -0.45,0Z", "filled": true, "color": "#e6194b", "stroke": "#e6194b", "strokeWidth": 1.3, "size": 50, "opacity": 1, "clip": true}, "encoding": {"y": {"field": "v", "type": "quantitative", "title": "F₁ score"}}},
     {"transform": [{"filter": "datum.m == 'BERT-50'"}], "mark": {"type": "point", "shape": "M-1,0H1M0,-1V1", "filled": true, "color": "#3cb44b", "stroke": "#3cb44b", "strokeWidth": 1.3, "size": 50, "opacity": 1, "clip": true}, "encoding": {"y": {"field": "v", "type": "quantitative", "title": "F₁ score"}}},
     {"transform": [{"filter": "datum.m == 'BERT-100'"}], "mark": {"type": "point", "shape": "triangle-down", "filled": true, "color": "#ffe119", "stroke": "#ffe119", "strokeWidth": 1.3, "size": 50, "opacity": 1, "clip": true}, "encoding": {"y": {"field": "v", "type": "quantitative", "title": "F₁ score"}}},
     {"transform": [{"filter": "datum.m == 'BERT-150'"}], "mark": {"type": "point", "shape": "triangle-up", "filled": true, "color": "#4363d8", "stroke": "#4363d8", "strokeWidth": 1.3, "size": 50, "opacity": 1, "clip": true}, "encoding": {"y": {"field": "v", "type": "quantitative", "title": "F₁ score"}}},
     {"transform": [{"filter": "datum.m == 'BERT-200'"}], "mark": {"type": "point", "shape": "triangle-left", "filled": true, "color": "#f58231", "stroke": "#f58231", "strokeWidth": 1.3, "size": 50, "opacity": 1, "clip": true}, "encoding": {"y": {"field": "v", "type": "quantitative", "title": "F₁ score"}}},
     {"transform": [{"filter": "datum.m == 'BERT-250'"}], "mark": {"type": "point", "shape": "triangle-right", "filled": true, "color": "#911eb4", "stroke": "#911eb4", "strokeWidth": 1.3, "size": 50, "opacity": 1, "clip": true}, "encoding": {"y": {"field": "v", "type": "quantitative", "title": "F₁ score"}}},
     {"transform": [{"filter": "datum.m == 'BERT-300'"}], "mark": {"type": "point", "shape": "circle", "filled": true, "color": "#46f0f0", "stroke": "#46f0f0", "strokeWidth": 1.3, "size": 50, "opacity": 1, "clip": true}, "encoding": {"y": {"field": "v", "type": "quantitative", "title": "F₁ score"}}},
     {"transform": [{"filter": "datum.m == 'BERT-350'"}], "mark": {"type": "point", "shape": "cross", "filled": true, "color": "#f032e6", "stroke": "#f032e6", "strokeWidth": 1.3, "size": 50, "opacity": 1, "clip": true}, "encoding": {"y": {"field": "v", "type": "quantitative", "title": "F₁ score"}}},
     {"transform": [{"filter": "datum.m == 'BERT-400'"}], "mark": {"type": "point", "shape": "diamond", "filled": true, "color": "#bcf60c", "stroke": "#bcf60c", "strokeWidth": 1.3, "size": 55, "opacity": 1, "clip": true}, "encoding": {"y": {"field": "v", "type": "quantitative", "title": "F₁ score"}}},
     {"transform": [{"filter": "datum.m == 'BERT-450'"}], "mark": {"type": "point", "shape": "M-0.8,-0.8L0.8,0.8M-0.8,0.8L0.8,-0.8", "filled": true, "color": "#fabebe", "stroke": "#fabebe", "strokeWidth": 1.3, "size": 50, "opacity": 1, "clip": true}, "encoding": {"y": {"field": "v", "type": "quantitative", "title": "F₁ score"}}},
     {"transform": [{"filter": "datum.m == 'BERT-500'"}], "mark": {"type": "point", "shape": "M-1,0H1", "filled": true, "color": "#008080", "stroke": "#008080", "strokeWidth": 1.5, "size": 50, "opacity": 1, "clip": true}, "encoding": {"y": {"field": "v", "type": "quantitative", "title": "F₁ score"}}},
     {"transform": [{"filter": "false"}], "mark": {"type": "point", "filled": true, "strokeWidth": 1.3, "opacity": 1},
      "encoding": {
       "y": {"field": "v", "type": "quantitative", "title": "F₁ score"},
       "color": {"field": "m", "type": "nominal", "title": "Models", "legend": {"title": "Models", "symbolSize": 100, "rowPadding": 2, "clipHeight": 12}},
       "shape": {"field": "m", "type": "nominal", "title": "Models", "scale": {"domain": ["BERT-0","BERT-50","BERT-100","BERT-150","BERT-200","BERT-250","BERT-300","BERT-350","BERT-400","BERT-450","BERT-500"], "range": ["M-0.75,-1H0.75M0,-1V1M-0.75,1H0.75M-0.22,0A0.22,0.22 0 1,0 0.22,0A0.22,0.22 0 1,0 -0.22,0Z","M-0.75,-1H0.75M0,-1V1M-0.75,1H0.75M-0.5,0H0.5","M-0.75,-1H0.75M0,-1V1M-0.75,1H0.75M-0.7,-0.5H0.7L0,0.6Z","M-0.75,-1H0.75M0,-1V1M-0.75,1H0.75M-0.7,0.5H0.7L0,-0.6Z","M-0.75,-1H0.75M0,-1V1M-0.75,1H0.75M0.6,-0.65V0.65L-0.6,0Z","M-0.75,-1H0.75M0,-1V1M-0.75,1H0.75M-0.6,-0.65V0.65L0.6,0Z","M-0.75,-1H0.75M0,-1V1M-0.75,1H0.75M-0.55,0A0.55,0.55 0 1,0 0.55,0A0.55,0.55 0 1,0 -0.55,0Z","M-0.75,-1H0.75M0,-1V1M-0.75,1H0.75M-0.2,-0.6H0.2V-0.2H0.6V0.2H0.2V0.6H-0.2V0.2H-0.6V-0.2H-0.2Z","M-0.75,-1H0.75M0,-1V1M-0.75,1H0.75M0,-0.7L0.6,0L0,0.7L-0.6,0Z","M-0.75,-1H0.75M0,-1V1M-0.75,1H0.75M-0.5,-0.5L0.5,0.5M-0.5,0.5L0.5,-0.5","M-0.75,-1H0.75M0,-1V1M-0.75,1H0.75M-0.5,0H0.5"]}},
       "stroke": {"field": "m", "type": "nominal", "title": "Models", "scale": {"domain": ["BERT-0","BERT-50","BERT-100","BERT-150","BERT-200","BERT-250","BERT-300","BERT-350","BERT-400","BERT-450","BERT-500"], "range": ["#e6194b","#3cb44b","#ffe119","#4363d8","#f58231","#911eb4","#46f0f0","#f032e6","#bcf60c","#fabebe","#008080"]}}
      }}
    ]
   },
   {"data": {"name": "frame"}, "mark": {"type": "rect", "filled": false, "color": "#333", "stroke": "#333", "strokeWidth": 1.2}, "encoding": {}}
  ]
 }
]
}
